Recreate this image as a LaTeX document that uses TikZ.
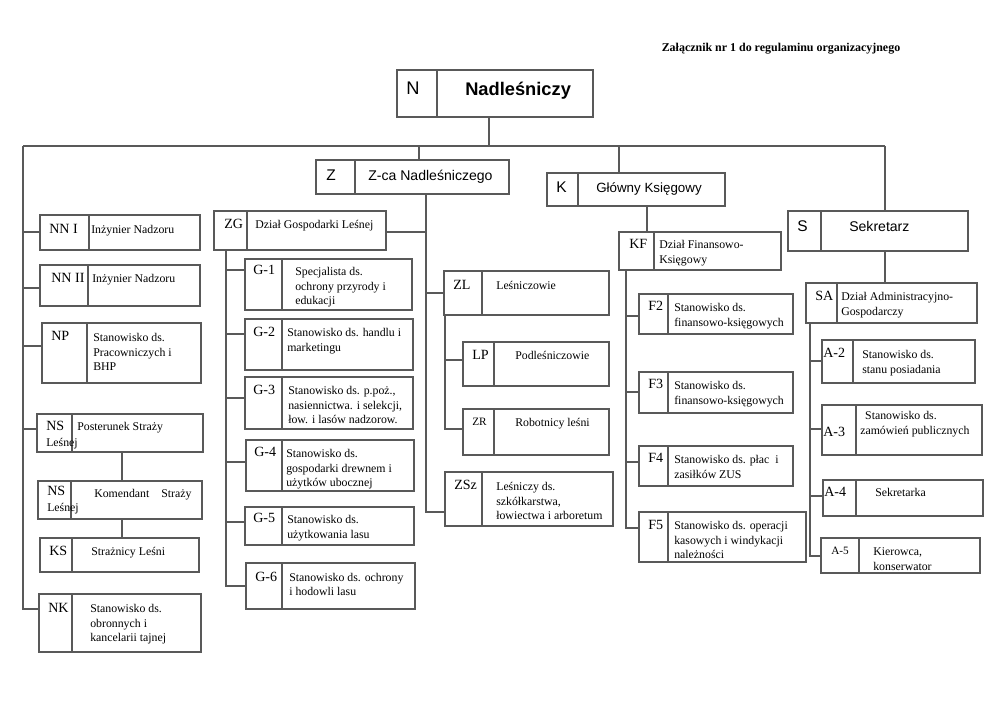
\documentclass[tikz,border=0pt]{standalone}
\usepackage{fontspec}
\setmainfont{Liberation Serif}
\newfontfamily\arialfont{Liberation Sans}
\usetikzlibrary{fit}
\definecolor{linegray}{gray}{0.35}

% box with a divider after the code cell
\newcommand{\orgunit}[6]{%
  \node[orgbox, fit={(#2,#3) (#4,#5)}] (#1) {};
  \draw[wire] (#6,#3) -- (#6,#5);}
% lines of a description, baseline at the first line
\newcommand{\rows}[1]{\begin{tabular}[t]{@{}l@{}}#1\end{tabular}}

\tikzset{
  orgbox/.style = {draw=linegray, line width=0.8pt, inner sep=0pt},
  wire/.style = {draw=linegray, line width=0.8pt},
  ident/.style = {anchor=base west, inner sep=0pt, font=\fontsize{10}{12}\selectfont},
  descr/.style = {anchor=base west, inner sep=0pt, font=\fontsize{8.4}{10.2}\selectfont},
  head/.style = {anchor=base west, inner sep=0pt, font=\arialfont\fontsize{10}{12}\selectfont},
}

\begin{document}
\begin{tikzpicture}[x=0.025cm, y=-0.025cm]
  \useasboundingbox (0,0) rectangle (1000,707);

  % Title
  \node[anchor=base, font=\bfseries\fontsize{8.5}{10}\selectfont] (title) at (781,52) {Załącznik nr 1 do regulaminu organizacyjnego};

  % Top level
  \orgunit{N}{397}{70}{593}{117}{437}
  \node[head, font=\arialfont\fontsize{13}{15}\selectfont] (Nc) at (406,95) {N};
  \node[head, font=\arialfont\bfseries\fontsize{13}{15}\selectfont] (Nt) at (465,95.5) {Nadleśniczy};

  \orgunit{Z}{316}{160}{509}{194}{355}
  \node[head, font=\arialfont\fontsize{11}{13}\selectfont] (Zc) at (326,181) {Z};
  \node[head] (Zt) at (368,181) {Z-ca Nadleśniczego};

  \orgunit{K}{547}{173}{725}{206}{578}
  \node[head, font=\arialfont\fontsize{11}{13}\selectfont] (Kc) at (556,193) {K};
  \node[head, font=\arialfont\fontsize{9.5}{12}\selectfont] (Kt) at (596,193) {Główny Księgowy};

  \orgunit{S}{788}{211}{968}{251}{821}
  \node[head, font=\arialfont\fontsize{11}{13}\selectfont] (Sc) at (797,232) {S};
  \node[head] (St) at (849,232) {Sekretarz};

  % Bus
  \coordinate (busL) at (23,146);
  \coordinate (busN) at (489,146);
  \coordinate (busZ) at (419,146);
  \coordinate (busK) at (619,146);
  \coordinate (busS) at (885,146);
  \draw[wire] (busL) -- (busS);
  \draw[wire] (N.south -| busN) -- (busN);
  \draw[wire] (Z.north -| busZ) -- (busZ);
  \draw[wire] (K.north -| busK) -- (busK);
  \draw[wire] (S.north -| busS) -- (busS);

  % Left column
  \orgunit{NN1}{40}{215}{200}{250}{89}
  \node[ident] (NN1c) at (49,234) {NN I};
  \node[descr] (NN1t) at (91,234) {Inżynier Nadzoru};

  \orgunit{NN2}{40}{265}{200}{306}{88}
  \node[ident] (NN2c) at (51,283) {NN II};
  \node[descr] (NN2t) at (92,283) {Inżynier Nadzoru};

  \orgunit{NP}{42}{323}{201}{383}{87}
  \node[ident] (NPc) at (51,341) {NP};
  \node[descr] (NPt) at (93,342) {\rows{Stanowisko ds.\\Pracowniczych i\\BHP}};

  \orgunit{NS1}{37}{414}{203}{452}{72}
  \node[ident] (NS1c) at (46,431) {NS};
  \node[descr] (NS1t) at (77,431) {Posterunek Straży};
  \node[descr] (NS1u) at (46,447) {Leśnej};

  \orgunit{NS2}{38}{481}{202}{519}{71}
  \node[ident] (NS2c) at (47,496) {NS};
  \node[descr] (NS2t) at (94,498) {Komendant\hspace{8.5pt}Straży};
  \node[descr] (NS2u) at (47,512) {Leśnej};

  \orgunit{KS}{40}{538}{199}{572}{72}
  \node[ident] (KSc) at (49,556) {KS};
  \node[descr] (KSt) at (91,556) {Strażnicy Leśni};

  \orgunit{NK}{39}{594}{201}{652}{72}
  \node[ident] (NKc) at (48,612) {NK};
  \node[descr] (NKt) at (90,613) {\rows{Stanowisko ds.\\obronnych i\\kancelarii tajnej}};

  \draw[wire] (NN1.west |- 0,232) -| (busL);
  \draw[wire] (NN2.west |- 0,288) -| (busL);
  \draw[wire] (NP.west |- 0,346) -| (busL);
  \draw[wire] (NS1.west |- 0,429) -| (busL);
  \draw[wire] (NK.west |- 0,609) -| (busL);
  \draw[wire] (NS1.south -| 122,0) -- (NS2.north -| 122,0);
  \draw[wire] (NS2.south -| 122,0) -- (KS.north -| 122,0);

  % Dzial Gospodarki Lesnej
  \orgunit{ZG}{214}{211}{386}{250}{247}
  \node[ident] (ZGc) at (224,229) {ZG};
  \node[descr] (ZGt) at (255,229) {Dział Gospodarki Leśnej};

  \orgunit{G1}{245}{259}{412}{310}{282}
  \node[ident] (G1c) at (253,275) {G-1};
  \node[descr] (G1t) at (295,276) {\rows{Specjalista ds.\\ochrony przyrody i\\edukacji}};

  \orgunit{G2}{245}{319}{413}{370}{282}
  \node[ident] (G2c) at (253,337) {G-2};
  \node[descr] (G2t) at (287,337) {\rows{Stanowisko ds. handlu i\\marketingu}};

  \orgunit{G3}{245}{377}{413}{429}{282}
  \node[ident] (G3c) at (253,395) {G-3};
  \node[descr] (G3t) at (288,395) {\rows{Stanowisko ds. p.poż.,\\nasiennictwa. i selekcji,\\łow. i lasów nadzorow.}};

  \orgunit{G4}{246}{440}{414}{491}{282}
  \node[ident] (G4c) at (254,457) {G-4};
  \node[descr] (G4t) at (286,458) {\rows{Stanowisko ds.\\gospodarki drewnem i\\użytków ubocznej}};

  \orgunit{G5}{245}{507}{414}{545}{282}
  \node[ident] (G5c) at (253,523) {G-5};
  \node[descr] (G5t) at (287,524) {\rows{Stanowisko ds.\\użytkowania lasu}};

  \orgunit{G6}{246}{563}{415}{609}{282}
  \node[ident] (G6c) at (255,581) {G-6};
  \node[descr] (G6t) at (289,581) {\rows{Stanowisko ds. ochrony\\i hodowli lasu}};

  \coordinate (spG) at (226,250);
  \draw[wire] (G1.west |- 0,270) -| (spG);
  \draw[wire] (G2.west |- 0,334) -| (spG);
  \draw[wire] (G3.west |- 0,398) -| (spG);
  \draw[wire] (G4.west |- 0,462) -| (spG);
  \draw[wire] (G5.west |- 0,522) -| (spG);
  \draw[wire] (G6.west |- 0,586) -| (spG);

  % Lesnictwa
  \orgunit{ZL}{444}{271}{609}{315}{482}
  \node[ident] (ZLc) at (453,290) {ZL};
  \node[descr] (ZLt) at (496,290) {Leśniczowie};

  \orgunit{LP}{463}{342}{609}{386}{494}
  \node[ident] (LPc) at (472,360) {LP};
  \node[descr] (LPt) at (515,360) {Podleśniczowie};

  \orgunit{ZR}{463}{409}{609}{455}{494}
  \node[ident, font=\fontsize{8}{10}\selectfont] (ZRc) at (472,426) {ZR};
  \node[descr] (ZRt) at (515,427) {Robotnicy leśni};

  \orgunit{ZSz}{445}{472}{613}{526}{482}
  \node[ident] (ZSzc) at (454,490) {ZSz};
  \node[descr] (ZSzt) at (496,491) {\rows{Leśniczy ds.\\szkółkarstwa,\\łowiectwa i arboretum}};

  \coordinate (spZ) at (426,194);
  \draw[wire] (ZG.east |- 0,232) -| (spZ);
  \draw[wire] (ZL.west |- 0,293) -| (spZ);
  \draw[wire] (ZSz.west |- 0,512) -| (spZ);
  \coordinate (spL) at (445,315);
  \draw[wire] (LP.west |- 0,360) -| (spL);
  \draw[wire] (ZR.west |- 0,429) -| (spL);

  % Dzial Finansowo-Ksiegowy
  \orgunit{KF}{619}{232}{781}{270}{654}
  \node[ident] (KFc) at (629,249) {KF};
  \node[descr] (KFt) at (659,249) {\rows{Dział Finansowo-\\Księgowy}};

  \orgunit{F2}{639}{294}{793}{334}{668}
  \node[ident] (F2c) at (648,311) {F2};
  \node[descr] (F2t) at (674,312) {\rows{Stanowisko ds.\\finansowo-księgowych}};

  \orgunit{F3}{639}{372}{793}{413}{668}
  \node[ident] (F3c) at (648,389) {F3};
  \node[descr] (F3t) at (674,390) {\rows{Stanowisko ds.\\finansowo-księgowych}};

  \orgunit{F4}{639}{446}{793}{486}{668}
  \node[ident] (F4c) at (648,463) {F4};
  \node[descr] (F4t) at (674,464) {\rows{Stanowisko ds. płac\ \ i\\zasiłków ZUS}};

  \orgunit{F5}{639}{512}{806}{562}{668}
  \node[ident] (F5c) at (648,530) {F5};
  \node[descr] (F5t) at (674,530) {\rows{Stanowisko ds. operacji\\kasowych i windykacji\\należności}};

  \draw[wire] (K.south -| 647,0) -- (KF.north -| 647,0);
  \coordinate (spK) at (626,270);
  \draw[wire] (F2.west |- 0,316) -| (spK);
  \draw[wire] (F3.west |- 0,392) -| (spK);
  \draw[wire] (F4.west |- 0,462) -| (spK);
  \draw[wire] (F5.west |- 0,528) -| (spK);

  % Dzial Administracyjno-Gospodarczy
  \orgunit{SA}{806}{283}{977}{323}{837}
  \node[ident] (SAc) at (815,301) {SA};
  \node[descr] (SAt) at (841,301) {\rows{Dział Administracyjno-\\Gospodarczy}};

  \orgunit{A2}{822}{340}{975}{383}{853}
  \node[ident] (A2c) at (823,358) {A-2};
  \node[descr] (A2t) at (862,359) {\rows{Stanowisko ds.\\stanu posiadania}};

  \orgunit{A3}{822}{405}{982}{455}{856}
  \node[ident] (A3c) at (823,437) {A-3};
  \node[descr] (A3t) at (860,420) {\rows{\hspace{3.5pt}Stanowisko ds.\\zamówień publicznych}};

  \orgunit{A4}{823}{480}{983}{516}{856}
  \node[ident] (A4c) at (824,497) {A-4};
  \node[descr] (A4t) at (875,497) {Sekretarka};

  \orgunit{A5}{821}{538}{980}{573}{859}
  \node[ident, font=\fontsize{8}{10}\selectfont] (A5c) at (831,555) {A-5};
  \node[descr] (A5t) at (873,556) {\rows{Kierowca,\\konserwator}};

  \draw[wire] (S.south -| busS) -- (SA.north -| busS);
  \coordinate (spS) at (810,323);
  \draw[wire] (A2.west |- 0,361) -| (spS);
  \draw[wire] (A3.west |- 0,429) -| (spS);
  \draw[wire] (A4.west |- 0,496) -| (spS);
  \draw[wire] (A5.west |- 0,556) -| (spS);

\end{tikzpicture}
\end{document}
